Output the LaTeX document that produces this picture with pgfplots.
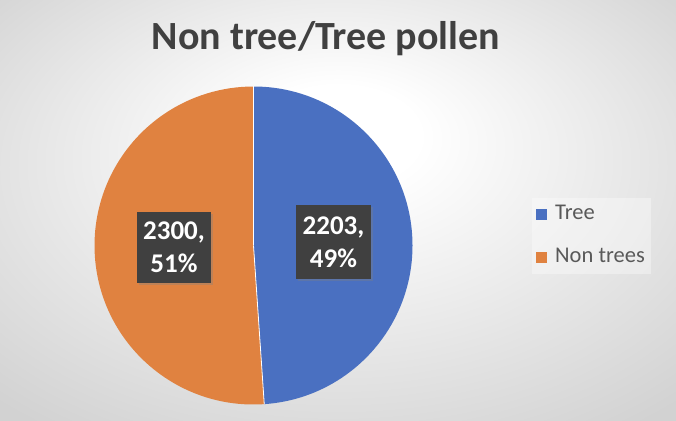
\documentclass[border=0pt]{standalone}
\usepackage{fontspec}
\setmainfont{Carlito}
\usepackage{pgfplots}
\pgfplotsset{compat=1.18}
\usetikzlibrary{shadows}

\definecolor{treeblue}{RGB}{74,112,193}
\definecolor{nonorange}{RGB}{224,130,64}
\definecolor{bggray}{RGB}{210,210,210}
\definecolor{titlegray}{RGB}{64,64,64}
\definecolor{legendgray}{RGB}{89,89,89}
\definecolor{labelbox}{RGB}{64,64,64}

\pgfdeclareradialshading{chartbg}{\pgfpoint{0bp}{10bp}}{color(0bp)=(white); color(6bp)=(white); color(36bp)=(bggray); color(50bp)=(bggray)}

% pie values
\def\valTree{2203}
\def\valNon{2300}
\pgfmathsetmacro\total{\valTree+\valNon}
\pgfmathsetmacro\fracTree{\valTree/\total}
\pgfmathsetmacro\fracNon{\valNon/\total}
\pgfmathsetmacro\endTree{90-360*\fracTree}
\pgfmathtruncatemacro\pctTree{round(100*\fracTree)}
\pgfmathtruncatemacro\pctNon{round(100*\fracNon)}

\def\cx{253.5}
\def\cy{174.5}
\def\rad{159pt}

\begin{document}
\begin{tikzpicture}
\begin{axis}[
  x=1pt, y=1pt,
  xmin=0, xmax=676, ymin=0, ymax=420,
  hide axis, clip=false,
  legend style={at={(axis cs:532,222)}, anchor=north west, draw=none,
    fill=white, fill opacity=0.35, text opacity=1,
    font=\fontsize{22.5}{26}\selectfont, text=legendgray,
    row sep=19.5pt, column sep=6pt, inner sep=4pt,
    nodes={text height=15pt, text depth=5pt, inner sep=2pt}},
  legend cell align=left,
  legend image code/.code={\fill[#1, draw=none, fill opacity=1] (0pt,-5.5pt) rectangle (11pt,5.5pt);},
]
\shade[shading=chartbg] (axis cs:0,0) rectangle (axis cs:676,420);

% slices
\fill[treeblue] (axis cs:\cx,\cy) -- ++(90:\rad) arc[start angle=90, end angle=\endTree, radius=\rad] -- cycle;
\fill[nonorange] (axis cs:\cx,\cy) -- ++(\endTree:\rad) arc[start angle=\endTree, end angle=-270, radius=\rad] -- cycle;
\draw[white, line width=0.8pt] (axis cs:\cx,\cy) -- ++(90:\rad);
\draw[white, line width=0.8pt] (axis cs:\cx,\cy) -- ++(\endTree:\rad);

% title
\node[font=\fontsize{40}{48}\selectfont\bfseries, text=titlegray, anchor=base]
  at (axis cs:326,370) {Non tree/Tree pollen};

% data labels
\node[fill=labelbox, text=white, font=\fontsize{27}{33}\selectfont\bfseries,
  align=center, minimum width=74pt, minimum height=71pt, inner sep=0pt,
  drop shadow={shadow xshift=2pt, shadow yshift=-2pt, opacity=0.35}]
  at (axis cs:174,172.5) {\valNon,\\\pctNon\%};
\node[fill=labelbox, text=white, font=\fontsize{27}{33}\selectfont\bfseries,
  align=center, minimum width=75pt, minimum height=74pt, inner sep=0pt,
  drop shadow={shadow xshift=2pt, shadow yshift=-2pt, opacity=0.35}]
  at (axis cs:333.5,178) {\valTree,\\\pctTree\%};

\addlegendimage{fill=treeblue, draw=none}
\addlegendentry{Tree}
\addlegendimage{fill=nonorange, draw=none}
\addlegendentry{Non trees}
\end{axis}
\end{tikzpicture}
\end{document}
